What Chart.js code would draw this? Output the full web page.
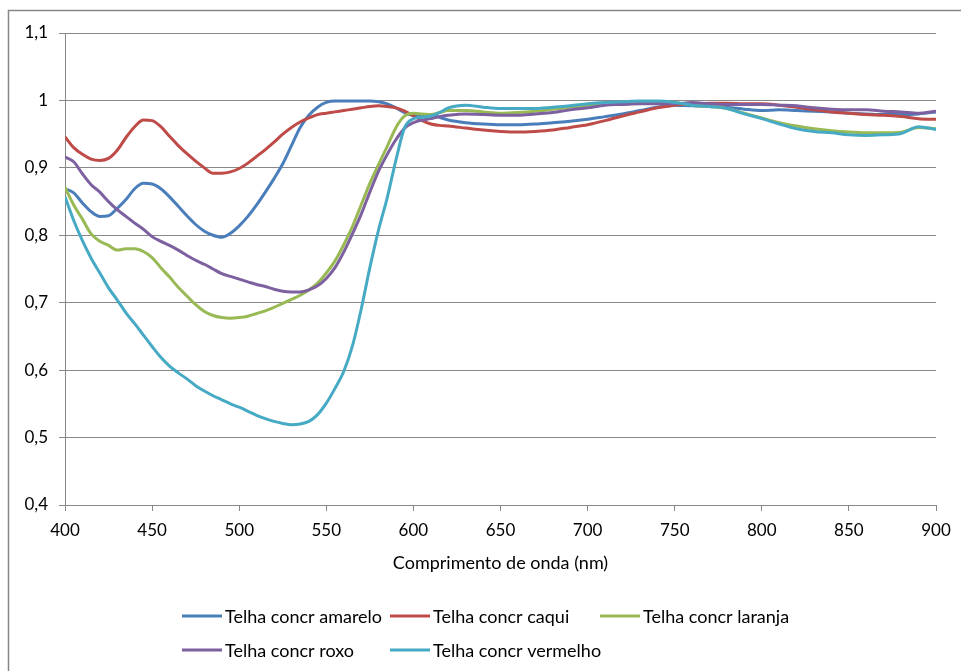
<!DOCTYPE html>
<html>
<head>
<meta charset="utf-8">
<script src="https://cdn.jsdelivr.net/npm/chart.js@4/dist/chart.umd.min.js"></script>
<style>
  html, body { margin: 0; padding: 0; background: #ffffff; }
  #wrap { width: 961px; height: 671px; position: relative; }
</style>
</head>
<body>
<div id="wrap"><canvas id="chart" width="961" height="671"></canvas></div>
<script>
// Wavelength grid (nm): 5 nm steps up to 620, then 10 nm steps
const wavelengths = [
  400,405,410,415,420,425,430,435,440,445,450,455,460,465,470,475,480,485,490,495,
  500,505,510,515,520,525,530,535,540,545,550,555,560,565,570,575,580,585,590,595,
  600,605,610,615,620,
  630,640,650,660,670,680,690,700,710,720,730,740,750,760,770,780,790,800,810,820,
  830,840,850,860,870,880,890,900
];

const amarelo = [
  0.869,0.863,0.848,0.835,0.828,0.829,0.840,0.853,0.869,0.877,0.876,0.869,0.857,0.843,0.829,0.816,0.806,0.800,0.797,0.803,
  0.814,0.828,0.845,0.864,0.884,0.906,0.933,0.960,0.978,0.990,0.997,0.999,0.999,0.999,0.999,0.999,0.998,0.995,0.989,0.982,
  0.978,0.978,0.979,0.975,0.971,
  0.967,0.965,0.964,0.964,0.965,0.967,0.969,0.972,0.976,0.980,0.985,0.990,0.993,0.992,0.991,0.990,0.987,0.985,0.986,0.985,
  0.984,0.983,0.981,0.980,0.979,0.979,0.980,0.983
];

const caqui = [
  0.946,0.930,0.920,0.913,0.911,0.914,0.926,0.945,0.961,0.971,0.970,0.961,0.947,0.933,0.921,0.910,0.900,0.892,0.892,0.894,
  0.899,0.907,0.917,0.927,0.938,0.950,0.960,0.968,0.974,0.979,0.981,0.983,0.985,0.987,0.989,0.991,0.992,0.991,0.989,0.984,
  0.977,0.970,0.965,0.963,0.962,
  0.959,0.956,0.954,0.953,0.954,0.956,0.960,0.964,0.970,0.977,0.983,0.989,0.993,0.995,0.996,0.996,0.995,0.995,0.993,0.990,
  0.986,0.983,0.981,0.979,0.978,0.976,0.973,0.972
];

const laranja = [
  0.871,0.845,0.824,0.802,0.791,0.785,0.778,0.780,0.780,0.776,0.767,0.752,0.738,0.723,0.710,0.697,0.687,0.681,0.678,0.677,
  0.678,0.680,0.684,0.688,0.693,0.699,0.705,0.711,0.719,0.729,0.744,0.762,0.786,0.813,0.845,0.877,0.905,0.932,0.960,0.977,
  0.981,0.980,0.979,0.982,0.985,
  0.985,0.983,0.981,0.982,0.984,0.987,0.990,0.993,0.996,0.997,0.998,0.998,0.997,0.993,0.991,0.988,0.981,0.974,0.967,0.962,
  0.958,0.955,0.953,0.952,0.952,0.953,0.960,0.958
];

const roxo = [
  0.916,0.909,0.891,0.875,0.864,0.850,0.838,0.828,0.818,0.809,0.798,0.791,0.785,0.778,0.770,0.763,0.757,0.750,0.743,0.739,
  0.735,0.731,0.727,0.724,0.720,0.717,0.716,0.716,0.719,0.725,0.736,0.752,0.775,0.802,0.831,0.864,0.895,0.920,0.942,0.959,
  0.967,0.971,0.973,0.976,0.978,
  0.980,0.979,0.978,0.978,0.980,0.982,0.986,0.989,0.993,0.994,0.995,0.995,0.995,0.997,0.995,0.994,0.994,0.994,0.993,0.992,
  0.989,0.987,0.986,0.986,0.984,0.983,0.981,0.984
];

const vermelho = [
  0.857,0.822,0.792,0.766,0.744,0.722,0.704,0.685,0.669,0.652,0.635,0.619,0.606,0.596,0.587,0.577,0.569,0.562,0.556,0.550,
  0.545,0.539,0.533,0.528,0.524,0.521,0.519,0.520,0.524,0.534,0.551,0.573,0.598,0.636,0.690,0.752,0.808,0.856,0.912,0.960,
  0.973,0.975,0.977,0.982,0.989,
  0.993,0.990,0.988,0.988,0.988,0.990,0.992,0.995,0.997,0.998,0.999,0.999,0.997,0.993,0.991,0.988,0.980,0.973,0.965,0.958,
  0.954,0.952,0.949,0.948,0.949,0.951,0.961,0.957
];

const seriesLabels = [
  'Telha concr amarelo',
  'Telha concr caqui',
  'Telha concr laranja',
  'Telha concr roxo',
  'Telha concr vermelho'
];
const seriesValues = [amarelo, caqui, laranja, roxo, vermelho];
const seriesColors = ['#4A7EBB', '#BE4B48', '#98B954', '#7D60A0', '#46AAC5'];

const xTicks = [400, 450, 500, 550, 600, 650, 700, 750, 800, 850, 900];
const yTicks = [0.4, 0.5, 0.6, 0.7, 0.8, 0.9, 1.0, 1.1];

const FONT = 'Lato, "Open Sans", sans-serif';
const GRID = '#888888';

const datasets = seriesValues.map((vals, i) => ({
  label: seriesLabels[i],
  data: vals.map((v, k) => ({ x: wavelengths[k], y: v })),
  borderColor: seriesColors[i],
  backgroundColor: seriesColors[i],
  borderWidth: 3,
  pointRadius: 0,
  cubicInterpolationMode: 'monotone',
  fill: false,
  order: seriesValues.length - i   // later series are drawn on top
}));

// Outer frame and a two-row legend laid out in fixed columns
const framePlugin = {
  id: 'frame',
  beforeDraw(chart) {
    const ctx = chart.ctx;
    ctx.save();
    ctx.fillStyle = '#ffffff';
    ctx.fillRect(0, 0, chart.width, chart.height);
    ctx.strokeStyle = '#868686';
    ctx.lineWidth = 1.5;
    ctx.strokeRect(8.5, 10.5, 1200, 1200);
    ctx.restore();
  }
};

const legendPlugin = {
  id: 'gridLegend',
  afterDraw(chart) {
    const ctx = chart.ctx;
    const cols = [182, 390, 600];
    const rows = [616, 650];
    ctx.save();
    ctx.font = '18px ' + FONT;
    ctx.textBaseline = 'middle';
    ctx.textAlign = 'left';
    chart.data.datasets.forEach((ds, i) => {
      const x = cols[i % 3];
      const y = rows[Math.floor(i / 3)];
      ctx.strokeStyle = ds.borderColor;
      ctx.lineWidth = 3;
      ctx.beginPath();
      ctx.moveTo(x, y);
      ctx.lineTo(x + 40, y);
      ctx.stroke();
      ctx.fillStyle = '#000000';
      ctx.fillText(ds.label, x + 43, y + 1);
    });
    ctx.restore();
  }
};

new Chart(document.getElementById('chart'), {
  type: 'line',
  data: { datasets },
  options: {
    responsive: false,
    animation: false,
    layout: { padding: { left: 0, right: 25, top: 33, bottom: 86 } },
    plugins: {
      legend: { display: false },
      tooltip: { enabled: false }
    },
    scales: {
      x: {
        type: 'linear',
        min: 400,
        max: 900,
        afterBuildTicks(scale) { scale.ticks = xTicks.map(v => ({ value: v })); },
        afterFit(scale) { scale.height = 80; },
        ticks: {
          font: { family: FONT, size: 17 },
          color: '#000000',
          padding: 9,
          maxRotation: 0,
          autoSkip: false
        },
        grid: {
          display: true,
          drawOnChartArea: false,
          drawTicks: true,
          tickLength: 6,
          color: GRID
        },
        border: { display: true, color: GRID, width: 1 },
        title: {
          display: true,
          text: 'Comprimento de onda (nm)',
          font: { family: FONT, size: 18 },
          color: '#000000',
          padding: { top: 4, bottom: 11 }
        }
      },
      y: {
        type: 'linear',
        min: 0.4,
        max: 1.1,
        afterBuildTicks(scale) { scale.ticks = yTicks.map(v => ({ value: v })); },
        afterFit(scale) { scale.width = 65; },
        ticks: {
          font: { family: FONT, size: 17 },
          color: '#000000',
          padding: 11,
          callback: (v) => String(Math.round(v * 10) / 10).replace('.', ',')
        },
        grid: {
          color: GRID,
          lineWidth: 1,
          drawTicks: true,
          tickLength: 6
        },
        border: { display: true, color: GRID, width: 1 }
      }
    }
  },
  plugins: [framePlugin, legendPlugin]
});
</script>
</body>
</html>
